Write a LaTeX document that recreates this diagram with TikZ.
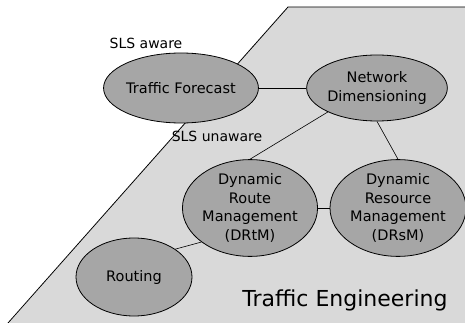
\documentclass[tikz,border=0pt]{standalone}
\usepackage{fontspec}
\setmainfont{DejaVu Sans}
\usetikzlibrary{shapes.geometric}
\definecolor{planegray}{HTML}{D9D9D9}
\definecolor{taskgray}{HTML}{A6A6A6}
\tikzset{
  task/.style={ellipse, draw, thick, fill=taskgray, inner sep=0pt, align=center,
    font=\fontsize{14.5}{18.5}\selectfont},
  link/.style={draw, semithick}
}
\begin{document}
\begin{tikzpicture}[x=1pt, y=-1pt]
  \useasboundingbox (0,0) rectangle (465,323);
  % Plane
  \fill[planegray] (288,7) -- (466,7) -- (466,324) -- (8,324) -- cycle;
  \draw[thick] (8,323) -- (288,7) -- (466,7);
  % Nodes
  \node (tf) [task, minimum width=132pt, minimum height=70pt] at (181,88) {Traffic Forecast};
  \node (nd) [task, minimum width=140pt, minimum height=66pt] at (377,88) {Network\\Dimensioning};
  \node (drtm) [task, minimum width=132pt, minimum height=92pt] at (250,208) {Dynamic\\Route\\Management\\(DRtM)};
  \node (drsm) [task, minimum width=136pt, minimum height=90pt] at (398,208) {Dynamic\\Resource\\Management\\(DRsM)};
  \node (routing) [task, minimum width=116pt, minimum height=78pt] at (134,277) {Routing};
  \node (aware) [font=\fontsize{14}{17}\selectfont] at (146,43) {SLS aware};
  \node (unaware) [font=\fontsize{14}{17}\selectfont] at (217,136) {SLS unaware};
  \node (te) [font=\fontsize{22}{26}\selectfont] at (345,300) {Traffic Engineering};
  % Links
  \draw[link] (tf) -- (nd);
  \draw[link] (nd.206) -- (drtm.north);
  \draw[link] (nd.south) -- (drsm.north);
  \draw[link] (drtm) -- (drsm);
  \draw[link] (routing.34) -- (drtm.215);
\end{tikzpicture}
\end{document}
